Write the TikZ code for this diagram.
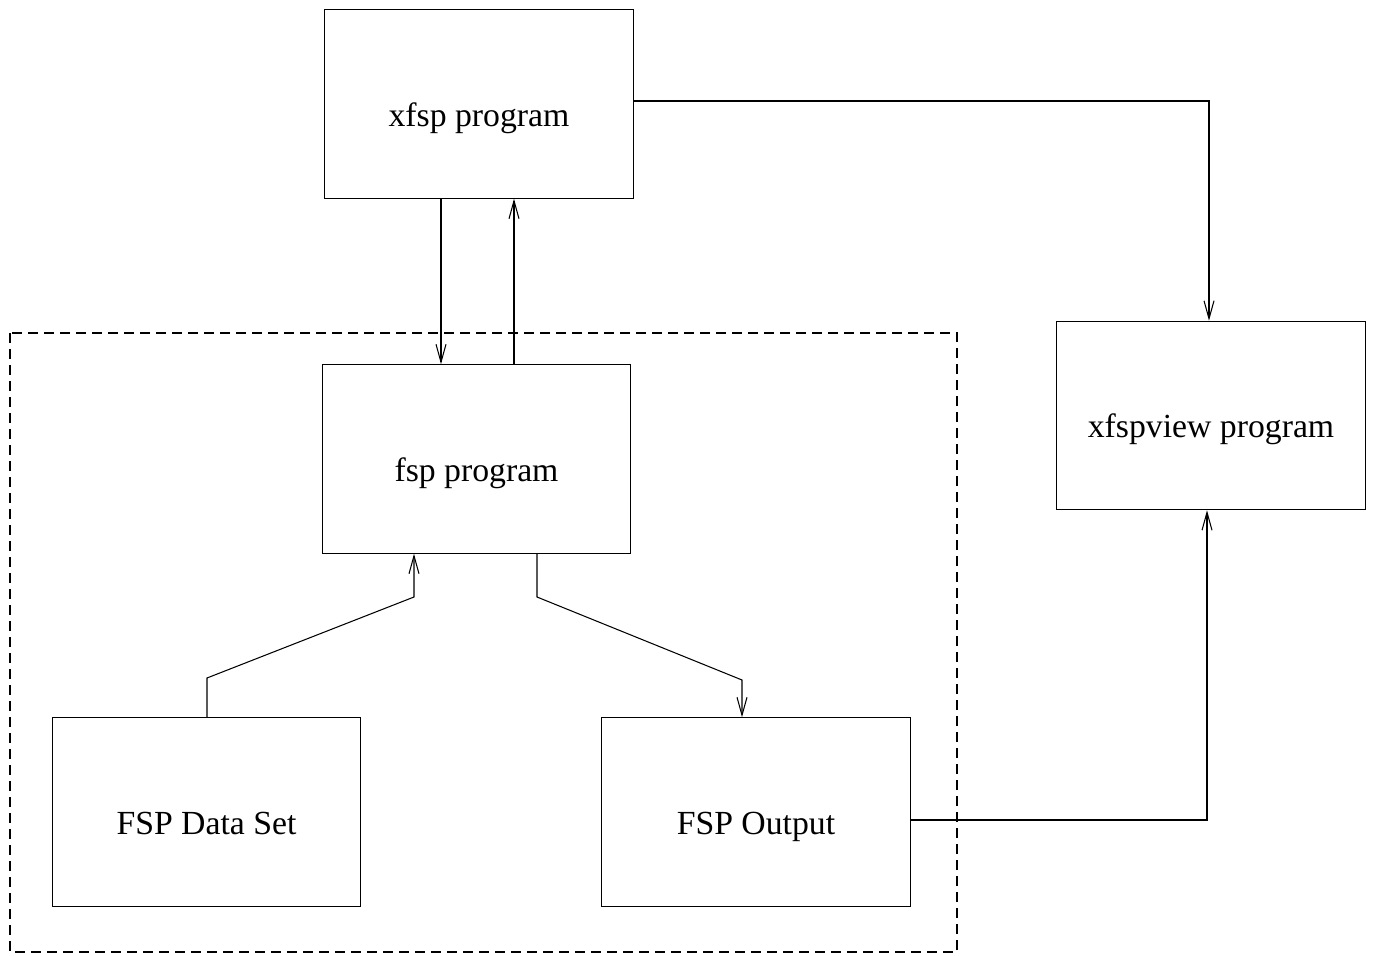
\documentclass[tikz,border=0pt]{standalone}
\usepackage{fontspec}
\setmainfont{Liberation Serif}
\usetikzlibrary{arrows.meta}
\tikzset{
	prog/.style={draw, line width=.6pt, minimum width=6.17cm, minimum height=3.77cm, inner sep=0pt, text height=.9cm, text depth=0pt, font=\fontsize{19.2}{23}\selectfont},
	flow/.style={line width=.6pt, -{Straight Barb[length=.36cm, width=.2cm]}},
}
\begin{document}
\begin{tikzpicture}
	\useasboundingbox (0, 0) rectangle (27.48, -19.12);
	\node[prog] (xfsp) at (9.58, -2.08) {xfsp program};
	\node[prog] (fsp) at (9.53, -9.18) {fsp program};
	\node[prog] (dataset) at (4.13, -16.24) {FSP Data Set};
	\node[prog] (output) at (15.12, -16.24) {FSP Output};
	\node[prog] (xfspview) at (24.22, -8.31) {xfspview program};
	\draw[line width=.6pt, dash pattern=on .2cm off .12cm] (0.2, -6.66) rectangle (19.14, -19.04);
	\coordinate (c1) at (8.82, 0);
	\coordinate (c2) at (10.28, 0);
	\coordinate (c3) at (24.18, -2.02);
	\coordinate (c4) at (4.14, -13.56);
	\coordinate (c5) at (8.28, -11.94);
	\coordinate (c6) at (10.74, -11.94);
	\coordinate (c7) at (14.84, -13.60);
	\coordinate (c8) at (24.14, -16.40);
	\draw[flow] (xfsp.south -| c1) to (fsp.north -| c1);
	\draw[flow] (fsp.north -| c2) to (xfsp.south -| c2);
	\draw[flow] (xfsp.east |- c3) to (c3) to (xfspview.north -| c3);
	\draw[flow] (dataset.north -| c4) to (c4) to (c5) to (fsp.south -| c5);
	\draw[flow] (fsp.south -| c6) to (c6) to (c7) to (output.north -| c7);
	\draw[flow] (output.east |- c8) to (c8) to (xfspview.south -| c8);
\end{tikzpicture}
\end{document}
